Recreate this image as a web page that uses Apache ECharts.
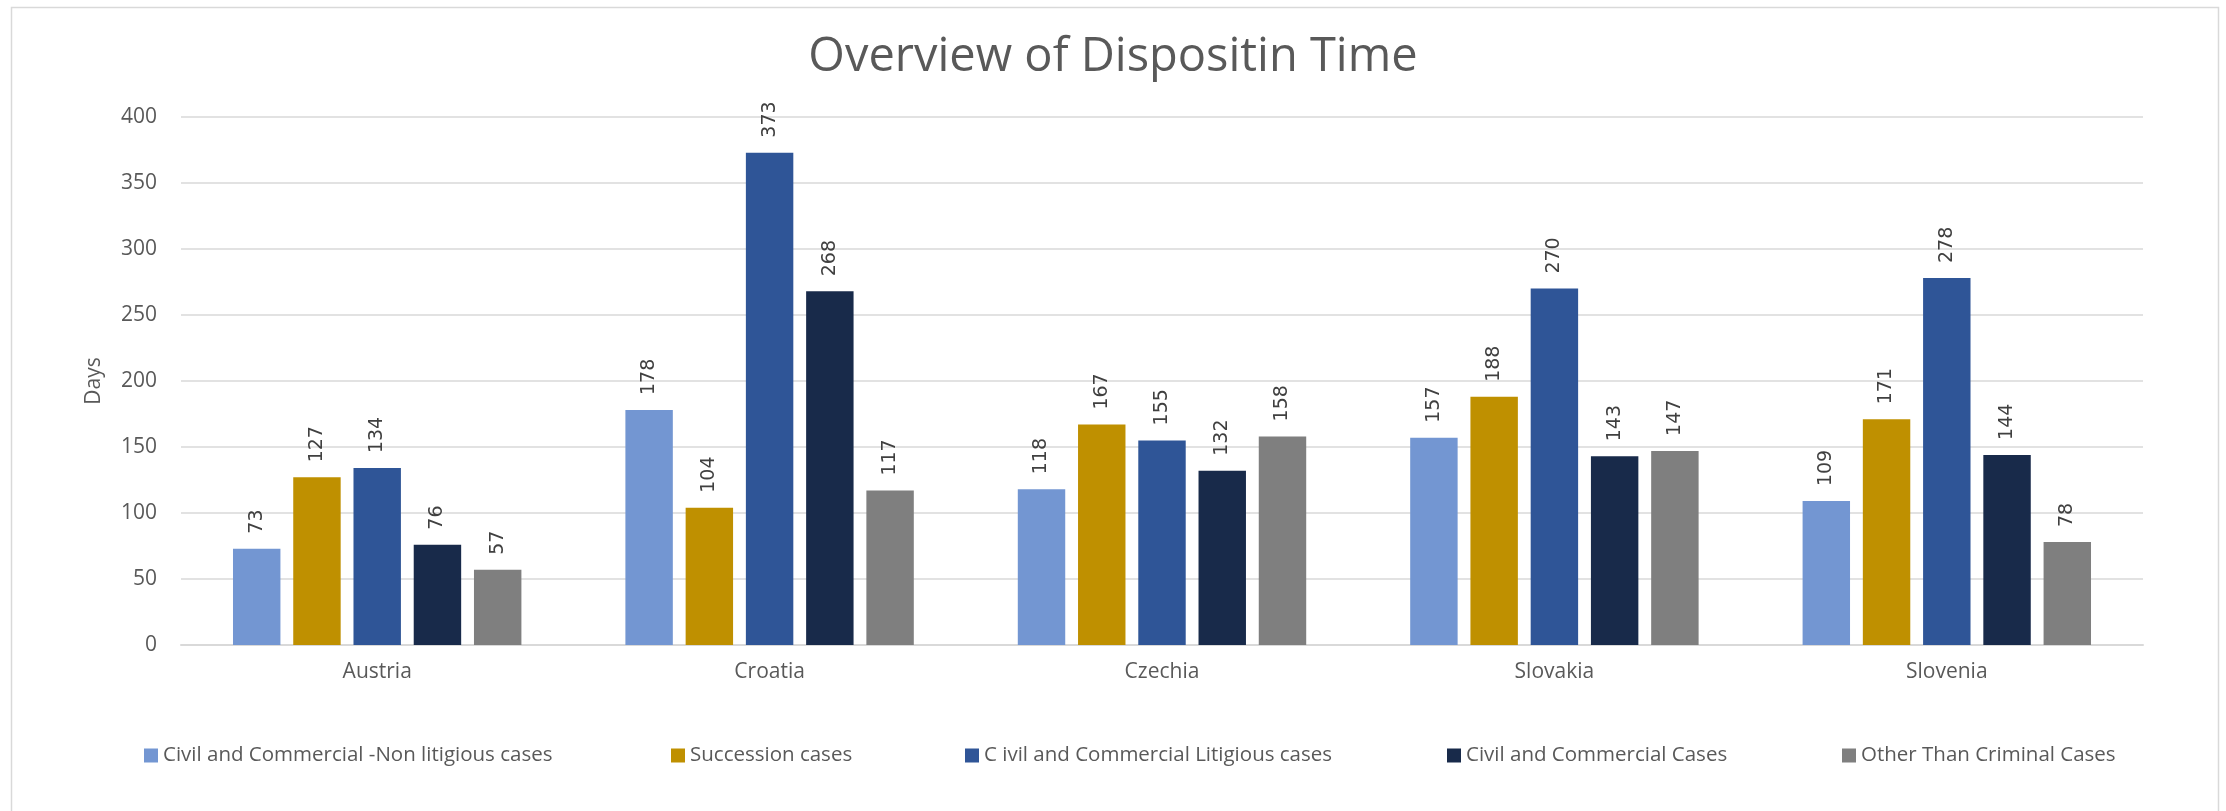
<!DOCTYPE html>
<html>
<head>
<meta charset="utf-8">
<script src="https://cdn.jsdelivr.net/npm/echarts@6/dist/echarts.min.js"></script>
<style>
html,body{margin:0;padding:0;background:#fff;}
#chart{width:2226px;height:811px;}
</style>
</head>
<body>
<div id="chart"></div>
<script>
const categories = ['Austria', 'Croatia', 'Czechia', 'Slovakia', 'Slovenia'];
const seriesNames = [
  'Civil and Commercial -Non litigious cases',
  'Succession cases',
  'C ivil and Commercial Litigious cases',
  'Civil and Commercial Cases',
  'Other Than Criminal Cases'
];
const nonLitigious = [73, 178, 118, 157, 109];
const succession = [127, 104, 167, 188, 171];
const litigious = [134, 373, 155, 270, 278];
const civilCommercial = [76, 268, 132, 143, 144];
const otherThanCriminal = [57, 117, 158, 147, 78];
const yTicks = [0, 50, 100, 150, 200, 250, 300, 350, 400];

const seriesData = [nonLitigious, succession, litigious, civilCommercial, otherThanCriminal];
const colors = ['#7396D2', '#BF9000', '#2F5597', '#182A4A', '#7F7F7F'];
const legendLefts = [139, 666, 960, 1442, 1837];

const chart = echarts.init(document.getElementById('chart'));
const option = {
  animation: false,
  backgroundColor: '#ffffff',
  color: colors,
  title: {
    text: 'Overview of Dispositin Time',
    left: 'center',
    top: 29,
    textStyle: { fontFamily: 'Open Sans', fontWeight: 'normal', fontSize: 47, color: '#595959' }
  },
  graphic: [{
    type: 'rect',
    shape: { x: 11.5, y: 7.5, width: 2207, height: 810 },
    style: { fill: 'none', stroke: '#D9D9D9', lineWidth: 1.5 },
    silent: true
  }],
  legend: seriesNames.map((n, i) => ({
    data: [n],
    left: legendLefts[i],
    top: 740,
    itemWidth: 14,
    itemHeight: 14,
    icon: 'rect',
    textStyle: { fontFamily: 'Open Sans', fontSize: 20.5, color: '#595959' },
    selectedMode: false
  })),
  grid: { left: 181, right: 83, top: 117, bottom: 166, containLabel: false },
  xAxis: {
    type: 'category',
    data: categories,
    axisLine: { show: true, lineStyle: { color: '#D9D9D9', width: 2 } },
    axisTick: { show: false },
    axisLabel: { fontFamily: 'Open Sans', fontSize: 21, color: '#595959', margin: 17 }
  },
  yAxis: {
    type: 'value',
    min: yTicks[0],
    max: yTicks[yTicks.length - 1],
    interval: yTicks[1] - yTicks[0],
    name: 'Days',
    nameLocation: 'middle',
    nameGap: 76,
    nameTextStyle: { fontFamily: 'Open Sans', fontSize: 21, color: '#595959' },
    axisLine: { show: false },
    axisTick: { show: false },
    splitLine: { lineStyle: { color: '#D9D9D9', width: 1.5 } },
    axisLabel: { fontFamily: 'Open Sans', fontSize: 21, color: '#595959', margin: 24 }
  },
  series: seriesData.map((d, i) => ({
    name: seriesNames[i],
    type: 'bar',
    data: d,
    barGap: '27%',
    barCategoryGap: '26.5%',
    itemStyle: { color: colors[i] },
    label: {
      show: true,
      position: 'top',
      rotate: 90,
      align: 'left',
      verticalAlign: 'middle',
      distance: 15,
      fontFamily: 'DejaVu Sans',
      fontSize: 19,
      color: '#404040'
    }
  }))
};
chart.setOption(option);
</script>
</body>
</html>
